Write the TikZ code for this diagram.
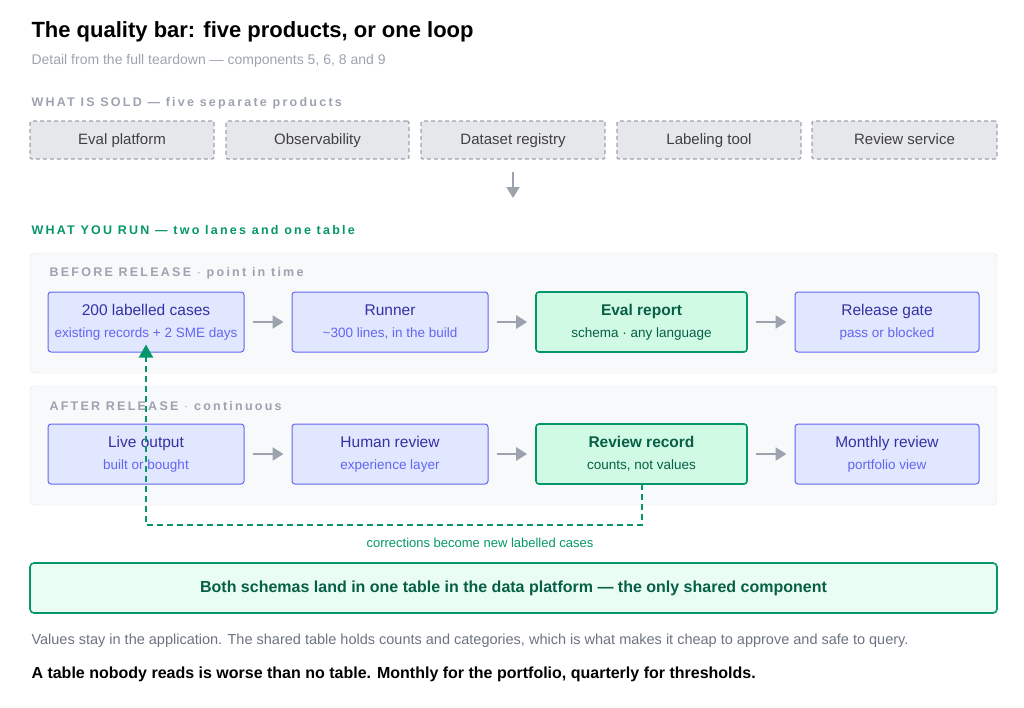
\documentclass[tikz,border=0pt]{standalone}
\usepackage{fontspec}
\setmainfont{Liberation Sans}
\usetikzlibrary{arrows.meta,positioning}
\definecolor{inkgray}{HTML}{6B7280}
\definecolor{soldfill}{HTML}{E5E7EB}
\definecolor{soldline}{HTML}{9CA3AF}
\definecolor{lanefill}{HTML}{F8F9FB}
\definecolor{laneline}{HTML}{E2E5EA}
\definecolor{bluefill}{HTML}{E0E7FF}
\definecolor{blueline}{HTML}{6366F1}
\definecolor{bluetext}{HTML}{3730A3}
\definecolor{greenfill}{HTML}{D1FAE5}
\definecolor{greenline}{HTML}{059669}
\definecolor{greentext}{HTML}{065F46}
\definecolor{arrowgray}{HTML}{9CA3AF}
\newcommand{\spaced}{\addfontfeature{LetterSpace=18}}
\tikzset{
  sold/.style={draw=soldline,line width=1.2pt,dash pattern=on 4pt off 3pt,fill=soldfill,rounded corners=2pt,minimum height=38pt,text height=11pt,text depth=3pt,text=black!75,font=\fontsize{15}{17}\selectfont},
  lane/.style={draw=laneline,fill=lanefill,rounded corners=4pt},
  stage/.style={draw=blueline,fill=bluefill,rounded corners=3pt,line width=1pt,minimum height=60pt,align=center,text=bluetext,font=\fontsize{15.5}{22}\selectfont},
  keystage/.style={stage,draw=greenline,fill=greenfill,line width=1.6pt,text=greentext},
  flow/.style={-{Triangle[length=11pt,width=13pt]},arrowgray,line width=2.5pt},
  caption/.style={anchor=west,font=\spaced\bfseries\fontsize{12.5}{14}\selectfont},
}
\newcommand{\sub}[2]{{\fontsize{13.5}{15}\selectfont\color{#1}#2}}
\begin{document}
\begin{tikzpicture}[x=1pt,y=-1pt]
\useasboundingbox (0,0) rectangle (1024,707);
\node[anchor=west,font=\bfseries\fontsize{22}{26}\selectfont] (title) at (28,32) {The quality bar: five products, or one loop};
\node[anchor=west,text=soldline,font=\fontsize{14}{16}\selectfont] (subtitle) at (28,61) {Detail from the full teardown — components 5, 6, 8 and 9};
\node[caption,text=soldline] (soldcap) at (28,103) {WHAT IS SOLD — five separate products};
% products on sale
\node[sold,minimum width=184pt] (p1) at (122,140) {Eval platform};
\node[sold,minimum width=183pt] (p2) at (317.5,140) {Observability};
\node[sold,minimum width=184pt] (p3) at (513,140) {Dataset registry};
\node[sold,minimum width=184pt] (p4) at (709,140) {Labeling tool};
\node[sold,minimum width=185pt] (p5) at (904.5,140) {Review service};
\coordinate (down) at (513,198);
\draw[flow,line width=2pt] ([yshift=-12pt]p3.south) -- (down);
\node[caption,text=greenline] (runcap) at (28,230) {WHAT YOU RUN — two lanes and one table};
% lanes
\draw[lane] (30,253) rectangle (997,373);
\draw[lane] (30,386) rectangle (997,505);
\node[caption,text=soldline] (beforecap) at (46,273) {BEFORE RELEASE {\mdseries·} point in time};
\node[caption,text=soldline] (aftercap) at (46,406) {AFTER RELEASE {\mdseries·} continuous};
\node[stage,minimum width=196pt] (cases) at (146,322) {200 labelled cases\\\sub{blueline}{existing records + 2 SME days}};
\node[stage,minimum width=196pt] (runner) at (390,322) {Runner\\\sub{blueline}{\textasciitilde300 lines, in the build}};
\node[keystage,minimum width=211pt] (report) at (641.5,322) {\textbf{Eval report}\\\sub{greentext}{schema · any language}};
\node[stage,minimum width=184pt] (gate) at (887,322) {Release gate\\\sub{blueline}{pass or blocked}};
\node[stage,minimum width=196pt] (live) at (146,454) {Live output\\\sub{blueline}{built or bought}};
\node[stage,minimum width=196pt] (human) at (390,454) {Human review\\\sub{blueline}{experience layer}};
\node[keystage,minimum width=211pt] (record) at (641.5,454) {\textbf{Review record}\\\sub{greentext}{counts, not values}};
\node[stage,minimum width=184pt] (monthly) at (887,454) {Monthly review\\\sub{blueline}{portfolio view}};
\foreach \a/\b in {cases/runner,runner/report,report/gate,live/human,human/record,record/monthly}
  \draw[flow] ([xshift=8pt]\a.east) -- ([xshift=-8pt]\b.west);
% feedback loop
\coordinate (turn) at (641.5,525);
\coordinate (back) at (146,525);
\draw[greenline,line width=2pt,dash pattern=on 6pt off 4pt,-{Triangle[length=13pt,width=14pt]}]
  ([yshift=1pt]record.south) -- (turn) -- (back) -- ([yshift=8pt]cases.south);
\node[text=greenline,font=\fontsize{13}{15}\selectfont] (loopcap) at (480,543) {corrections become new labelled cases};
\node[draw=greenline,fill=greenfill!45,line width=1.6pt,rounded corners=4pt,minimum width=967pt,minimum height=50pt,text=greentext,font=\bfseries\fontsize{16}{19}\selectfont] (table) at (513.5,588) {Both schemas land in one table in the data platform — the only shared component};
\node[anchor=west,text=inkgray,font=\fontsize{14.5}{17}\selectfont] (note) at (28,641) {Values stay in the application. The shared table holds counts and categories, which is what makes it cheap to approve and safe to query.};
\node[anchor=west,font=\bfseries\fontsize{16}{19}\selectfont] (moral) at (28,674) {A table nobody reads is worse than no table. Monthly for the portfolio, quarterly for thresholds.};
\end{tikzpicture}
\end{document}
